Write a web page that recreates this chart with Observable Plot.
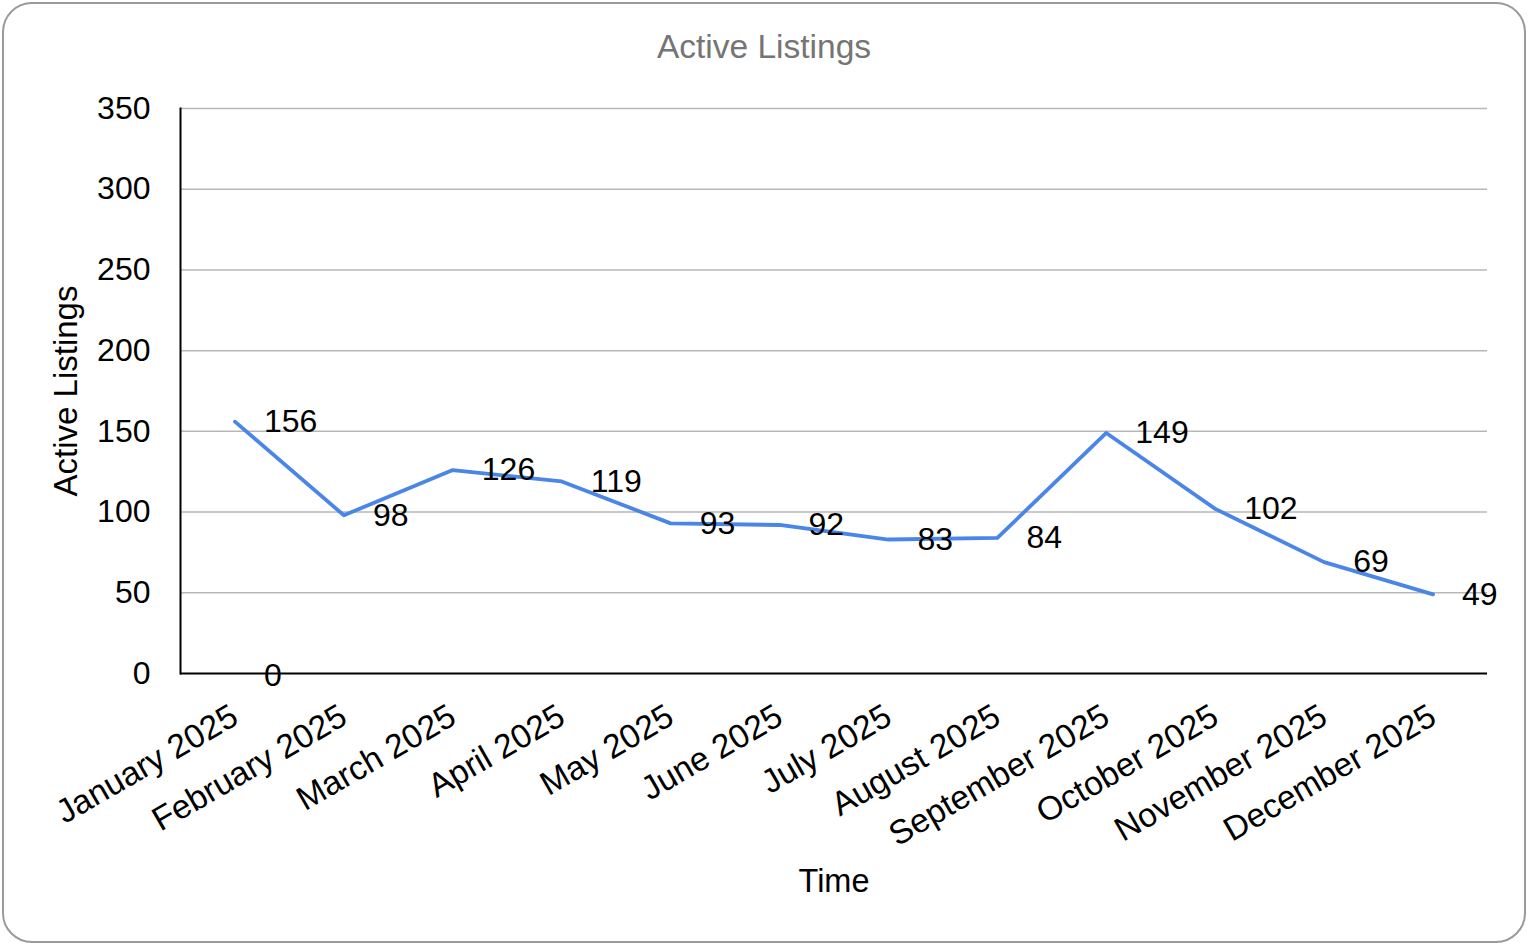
<!DOCTYPE html>
<html>
<head>
<meta charset="utf-8">
<script src="https://cdn.jsdelivr.net/npm/d3@7"></script>
<script src="https://cdn.jsdelivr.net/npm/@observablehq/plot@0.6"></script>
<style>
  html, body { margin: 0; padding: 0; background: #fff; width: 1528px; height: 946px; overflow: hidden; }
  body { position: relative; font-family: "Liberation Sans", Arial, sans-serif; }
  #frame { position: absolute; left: 2px; top: 2px; width: 1520px; height: 937px; border: 2px solid #9a9a9a; border-radius: 30px; box-sizing: content-box; }
  #title { position: absolute; left: 0; top: 28px; width: 1528px; text-align: center; font-size: 33.5px; color: #757575; line-height: 38px; }
  #chart { position: absolute; left: 0; top: 70px; }
</style>
</head>
<body>
<div id="frame"></div>
<div id="title">Active Listings</div>
<div id="chart"></div>
<script>
const months = ["January 2025","February 2025","March 2025","April 2025","May 2025","June 2025","July 2025","August 2025","September 2025","October 2025","November 2025","December 2025"];
const listings = [156, 98, 126, 119, 93, 92, 83, 84, 149, 102, 69, 49];
const zeroSeries = [0];
const yTicks = [0, 50, 100, 150, 200, 250, 300, 350];
const yTitle = "Active Listings";
const xTitle = "Time";

const data = months.map((m, i) => ({month: m, value: listings[i]}));
const zeroRows = zeroSeries.map((v, i) => ({month: months[i], value: v}));

const chart = Plot.plot({
  width: 1528,
  height: 840,
  marginTop: 38,
  marginBottom: 237,
  marginLeft: 180,
  marginRight: 41,
  style: {fontFamily: "'Liberation Sans', Arial, sans-serif", fontSize: "32px", color: "#000", background: "transparent", overflow: "visible"},
  x: {type: "point", domain: months, padding: 0.5, round: false, label: null},
  y: {domain: [0, 350], label: null},
  marks: [
    Plot.gridY(yTicks.filter(d => d > 0), {stroke: "#b7b7b7", strokeOpacity: 1, strokeWidth: 1.5}),
    Plot.axisY({ticks: yTicks, tickSize: 0, tickPadding: 30, fontSize: 32, label: null}),
    Plot.axisX({tickSize: 0, tickPadding: 40, tickRotate: -30, fontSize: 33.5, label: null}),
    Plot.frame({anchor: "left", stroke: "#000", strokeWidth: 2}),
    Plot.ruleY([0], {stroke: "#000", strokeWidth: 2}),
    Plot.lineY(data, {x: "month", y: "value", stroke: "#4a86e8", strokeWidth: 3.8}),
    Plot.text(data, {x: "month", y: "value", text: d => String(d.value), dx: 29, textAnchor: "start", fontSize: 32, fill: "#000"}),
    Plot.text(zeroRows, {x: "month", y: "value", text: d => String(d.value), dx: 29, dy: 2, textAnchor: "start", fontSize: 32, fill: "#000"}),
    Plot.text([xTitle], {frameAnchor: "bottom", dx: 0, dy: 218, fontSize: 32.5, fill: "#000"}),
    Plot.text([yTitle], {frameAnchor: "left", dx: -114, rotate: -90, textAnchor: "middle", fontSize: 33, fill: "#000"})
  ]
});
document.getElementById("chart").appendChild(chart);
</script>
</body>
</html>
